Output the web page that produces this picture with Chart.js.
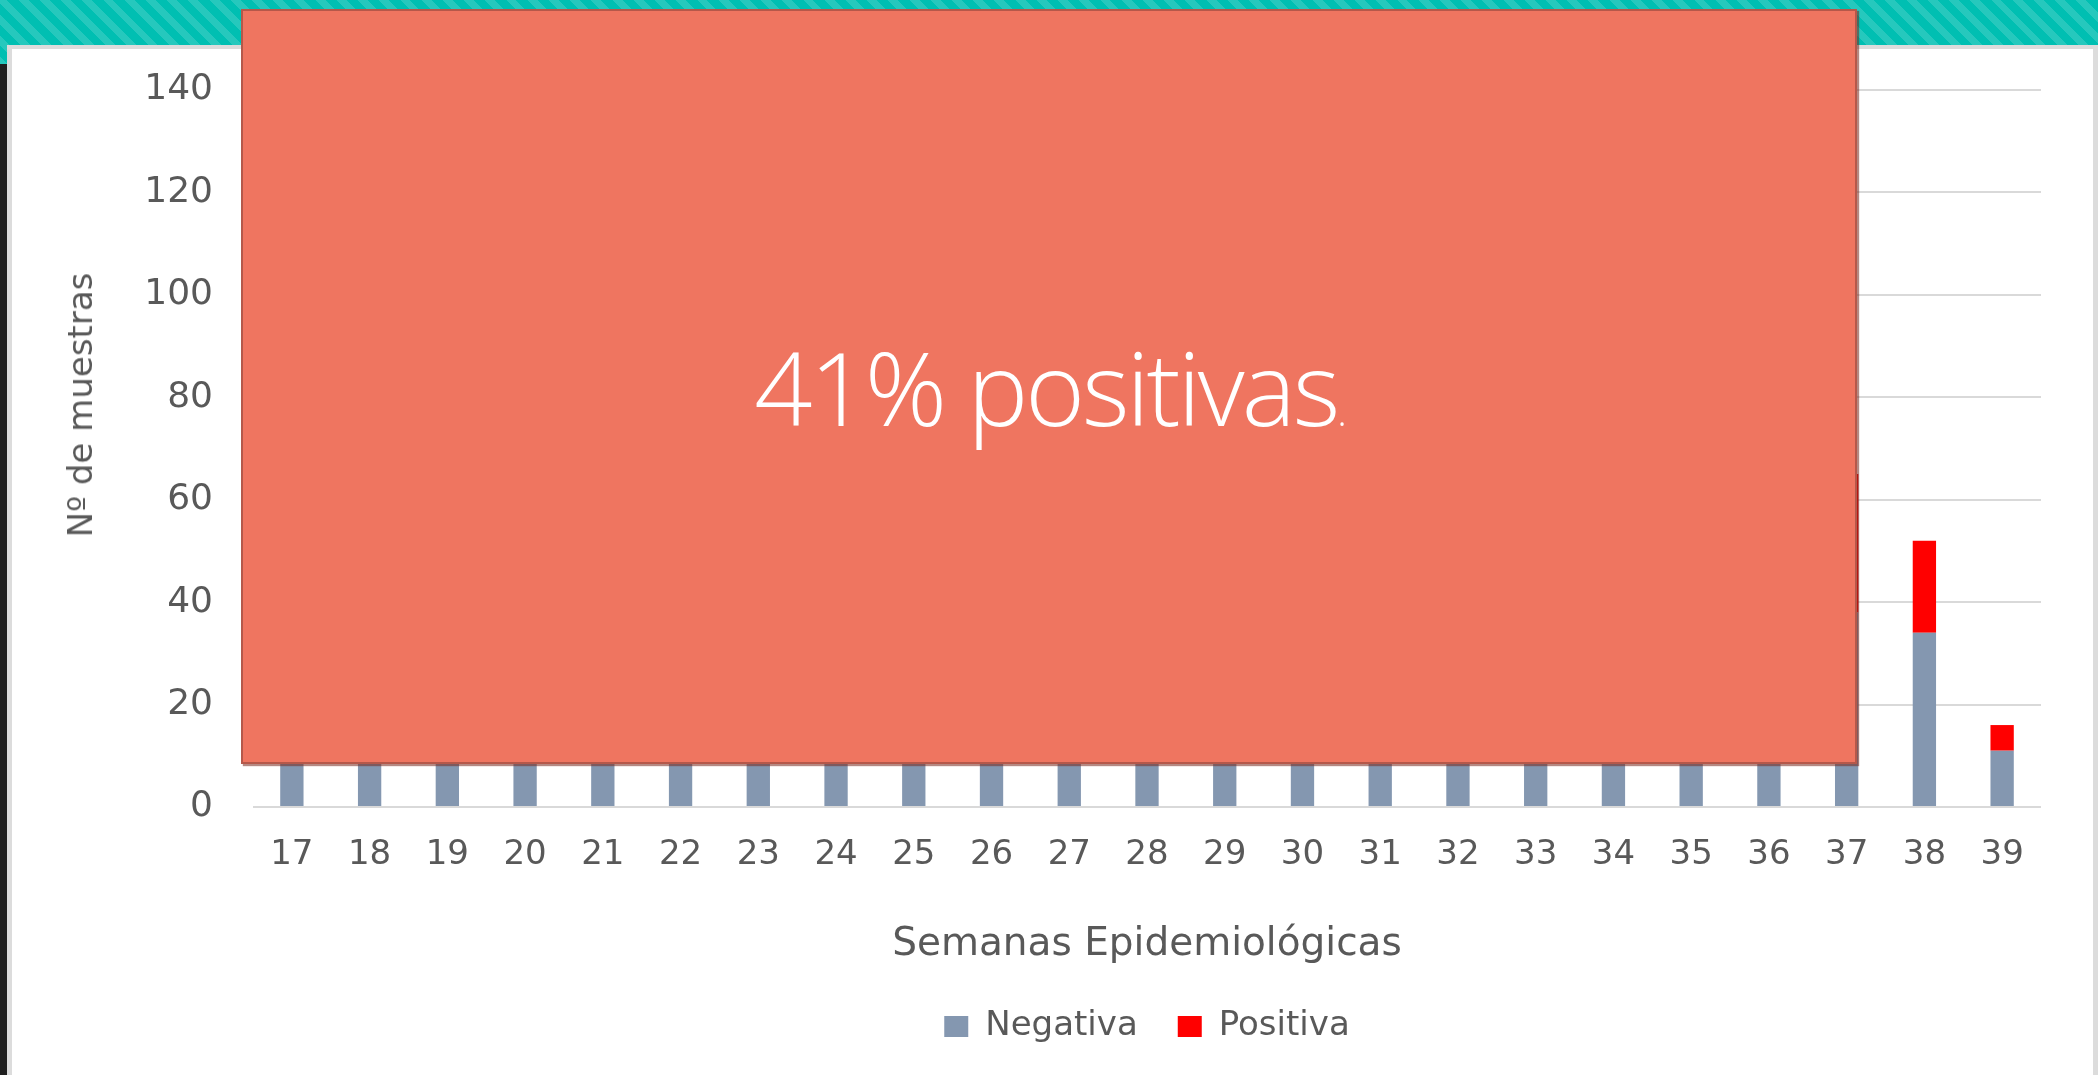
<!DOCTYPE html>
<html>
<head>
<meta charset="utf-8">
<script src="https://cdn.jsdelivr.net/npm/chart.js@4.4.1/dist/chart.umd.min.js"></script>
<style>
  html, body { margin: 0; padding: 0; }
  body {
    width: 2098px; height: 1075px; overflow: hidden; position: relative;
    background: repeating-linear-gradient(45deg, #00bfb2 0 8px, #26c8bd 8px 15px);
  }
  #dark { position: absolute; left: 0; top: 64px; width: 7px; bottom: 0; background: #1f1f1f; }
  #panel {
    position: absolute; left: 7px; top: 45px; right: 0; bottom: -10px;
    background: #fff; border: 4px solid #dcdcdc; border-width: 4px 5px 0 5px;
  }
  #wrap { position: absolute; left: 0; top: 0; width: 2098px; height: 1075px; }
  #ytitle {
    position: absolute; left: 80px; top: 405px;
    transform: translate(-50%, -50%) rotate(-90deg);
    font: 34px "DejaVu Sans"; color: #595959; white-space: nowrap;
  }
  #overlay {
    position: absolute; left: 241px; top: 9px; width: 1612px; height: 751px;
    background: #ef7560; border: 2px solid #b5584a;
    box-shadow: 2px 2px 1px rgba(120, 40, 30, 0.55);
    display: flex; align-items: center; justify-content: center;
  }
  #overlay span {
    font-family: "Open Sans"; font-weight: 300; font-size: 102px; color: #fff;
    white-space: nowrap; letter-spacing: -3px;
  }
  #overlay small { font-size: 40px; }
</style>
</head>
<body>
<div id="dark"></div>
<div id="panel"></div>
<div id="wrap"><canvas id="chart"></canvas></div>
<div id="ytitle">Nº de muestras</div>
<div id="overlay"><span>41% positivas<small>.</small></span></div>
<script>
// semanas epidemiológicas 17..39
const semanas = ['17','18','19','20','21','22','23','24','25','26','27','28','29','30','31','32','33','34','35','36','37','38','39'];
// weeks 17-36 are hidden under the box, those values are rough guesses
const negativa = [30, 28, 35, 40, 45, 50, 48, 55, 60, 58, 62, 55, 60, 52, 50, 48, 45, 42, 40, 38, 38, 34, 11];
const positiva = [12, 15, 20, 25, 30, 35, 40, 38, 42, 45, 40, 44, 38, 42, 40, 36, 34, 30, 28, 30, 27, 18, 5];
const yTicks = [0, 20, 40, 60, 80, 100, 120, 140];

const txt = '#595959';

new Chart(document.getElementById('chart').getContext('2d'), {
  type: 'bar',
  data: {
    labels: semanas,
    datasets: [
      { label: 'Negativa', data: negativa, backgroundColor: '#8497b0', categoryPercentage: 1, barPercentage: 0.3 },
      { label: 'Positiva', data: positiva, backgroundColor: '#ff0000', categoryPercentage: 1, barPercentage: 0.3 }
    ]
  },
  options: {
    responsive: true, maintainAspectRatio: false, animation: false,
    layout: { padding: { left: 0, right: 57, top: 90, bottom: 21.5 } },
    plugins: {
      tooltip: { enabled: false },
      legend: {
        position: 'bottom',
        fullSize: false, // centre it under the plot area, not the whole canvas
        labels: { color: txt, font: { family: 'DejaVu Sans', size: 34 }, boxWidth: 24, boxHeight: 21, padding: 40 }
      }
    },
    scales: {
      x: {
        stacked: true,
        grid: { display: false },
        border: { display: false },
        ticks: { color: txt, font: { family: 'DejaVu Sans', size: 34 }, padding: 20, maxRotation: 0 },
        title: { display: true, text: 'Semanas Epidemiológicas', color: txt,
                 font: { family: 'DejaVu Sans', size: 39 }, padding: { top: 0, bottom: 1 } },
        afterFit: s => { s.height = 162.5; }
      },
      y: {
        stacked: true, min: 0, max: 140,
        afterBuildTicks: s => { s.ticks = yTicks.map(v => ({ value: v })); },
        grid: { color: '#d9d9d9', lineWidth: 2, drawTicks: false },
        border: { display: false },
        ticks: { color: txt, font: { family: 'DejaVu Sans', size: 36 }, padding: 40 },
        afterFit: s => { s.width = 253; }
      }
    }
  }
});
</script>
</body>
</html>
